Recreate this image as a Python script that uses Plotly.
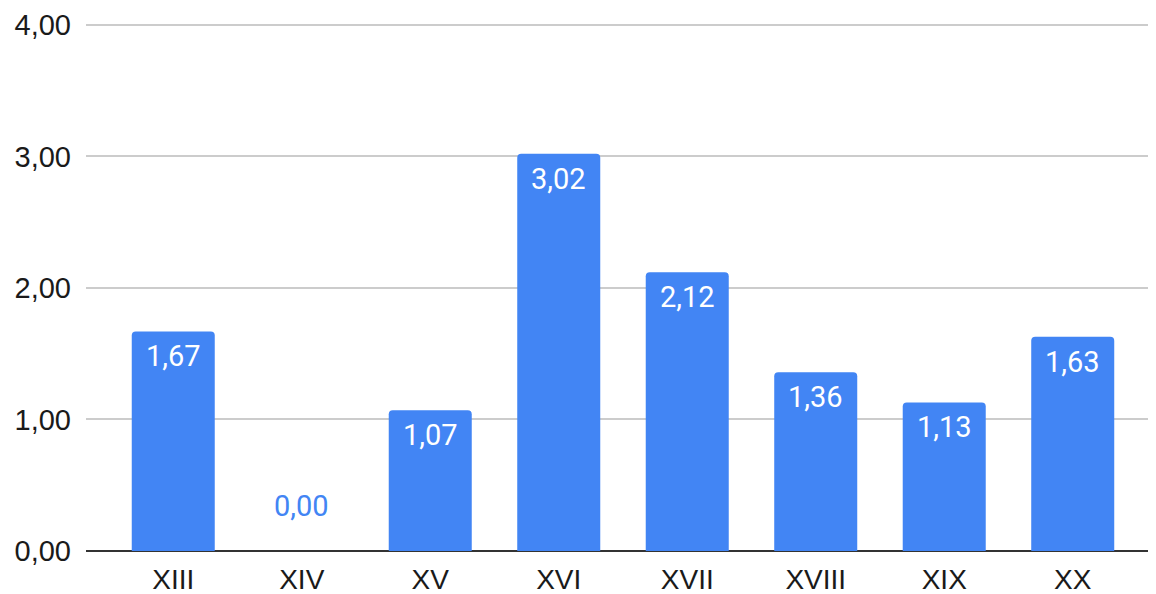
import plotly.graph_objects as go

categories = ["XIII", "XIV", "XV", "XVI", "XVII", "XVIII", "XIX", "XX"]
values = [1.67, 0.00, 1.07, 3.02, 2.12, 1.36, 1.13, 1.63]
y_ticks = [0, 1, 2, 3, 4]
y_tick_labels = ["0,00", "1,00", "2,00", "3,00", "4,00"]

BLUE = "#4285F4"

def fmt(v):
    return f"{v:.2f}".replace(".", ",")

fig = go.Figure()
fig.add_trace(go.Bar(
    x=list(range(len(categories))),
    y=values,
    marker=dict(color=BLUE, line=dict(width=0), cornerradius=4),
    width=0.646,
    hoverinfo="skip",
))

annotations = []
for i, v in enumerate(values):
    if v > 0:
        annotations.append(dict(
            x=i, y=v, xref="x", yref="y", text=fmt(v), showarrow=False,
            yanchor="top", yshift=-6,
            font=dict(family="Roboto", size=29, color="white"),
        ))
    else:
        annotations.append(dict(
            x=i, y=v, xref="x", yref="y", text=fmt(v), showarrow=False,
            yanchor="bottom", yshift=26,
            font=dict(family="Roboto", size=29, color=BLUE),
        ))

fig.update_layout(
    width=1148, height=586,
    margin=dict(l=78, r=0, t=15, b=43, autoexpand=False),
    plot_bgcolor="white", paper_bgcolor="white",
    showlegend=False,
    annotations=annotations,
    font=dict(family="Liberation Sans, Arial, sans-serif", size=28, color="#1a1a1a"),
    xaxis=dict(
        range=[-0.679, 7.648],
        tickmode="array",
        tickvals=list(range(len(categories))),
        ticktext=categories,
        showgrid=False, zeroline=False,
        showline=False, ticks="",
        ticklabelstandoff=9,
        automargin=False,
        fixedrange=True,
    ),
    yaxis=dict(
        range=[0, 4.015],
        tickmode="array",
        tickvals=y_ticks,
        ticktext=y_tick_labels,
        tickfont=dict(size=29),
        showgrid=True, gridcolor="#cccccc", gridwidth=2,
        zeroline=True, zerolinecolor="#333333", zerolinewidth=2,
        showline=False, ticks="",
        ticklabelstandoff=14,
        automargin=False,
        fixedrange=True,
    ),
)

fig.write_html("out.html")
